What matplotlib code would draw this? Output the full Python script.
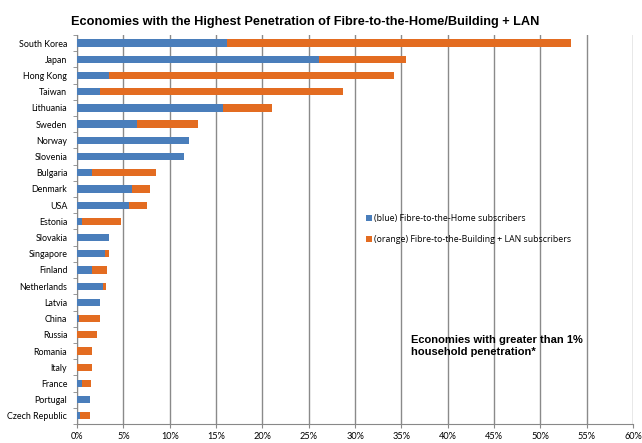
import matplotlib.pyplot as plt
import numpy as np

countries = ['South Korea', 'Japan', 'Hong Kong', 'Taiwan', 'Lithuania', 'Sweden',
             'Norway', 'Slovenia', 'Bulgaria', 'Denmark', 'USA', 'Estonia',
             'Slovakia', 'Singapore', 'Finland', 'Netherlands', 'Latvia', 'China',
             'Russia', 'Romania', 'Italy', 'France', 'Portugal', 'Czech Republic']
ftth = [16.2, 26.1, 3.5, 2.5, 15.7, 6.5, 12.1, 11.5, 1.6, 5.9, 5.6, 0.5,
        3.5, 3.0, 1.6, 2.75, 2.5, 0.25, 0.0, 0.0, 0.0, 0.5, 1.4, 0.3]
total = [53.3, 35.5, 34.2, 28.7, 21.0, 13.0, 12.1, 11.5, 8.5, 7.9, 7.6, 4.7,
         3.5, 3.5, 3.2, 3.1, 2.5, 2.5, 2.2, 1.65, 1.6, 1.5, 1.4, 1.4]
fttb = [t - h for t, h in zip(total, ftth)]
xticks = list(range(0, 65, 5))

BLUE = '#4a7ebb'
ORANGE = '#e36c21'


def main():
    fig = plt.figure(figsize=(6.42, 4.43), dpi=100)
    ax = fig.add_axes([0.12, 0.043, 0.866, 0.878])

    y = np.arange(len(countries))
    ax.barh(y, ftth, height=0.45, color=BLUE, zorder=3,
            label='(blue) Fibre-to-the-Home subscribers')
    ax.barh(y, fttb, left=ftth, height=0.45, color=ORANGE, zorder=3,
            label='(orange) Fibre-to-the-Building + LAN subscribers')

    ax.set_ylim(len(countries) - 0.5, -0.5)
    ax.set_xlim(0, 60)
    ax.set_yticks(y)
    ax.set_yticklabels(countries, fontsize=6.4, family='Lato')
    ax.set_yticks(np.arange(-0.5, len(countries)), minor=True)
    ax.tick_params(axis='y', which='major', length=0, pad=7)
    ax.tick_params(axis='y', which='minor', length=3, color='#888888')
    ax.set_xticks(xticks)
    ax.set_xticklabels([f'{v}%' for v in xticks], fontsize=6.6, family='Lato')
    ax.tick_params(axis='x', length=3, color='#888888', pad=3)

    ax.grid(axis='x', color='#8a8a8a', lw=1, zorder=1)
    for s in ['top', 'right']:
        ax.spines[s].set_visible(False)
    for s in ['left', 'bottom']:
        ax.spines[s].set_color('#888888')

    fig.suptitle('Economies with the Highest Penetration of Fibre-to-the-Home/Building + LAN',
                 x=0.475, y=0.965, fontsize=9.2, fontweight='bold', family='Liberation Sans')

    ax.legend(loc='upper left', bbox_to_anchor=(0.505, 0.56), frameon=False,
              prop={'family': 'Open Sans', 'size': 6.3},
              handlelength=0.7, handleheight=0.7, labelspacing=1.4, handletextpad=0.3)

    ax.text(0.6, 0.2, 'Economies with greater than 1%\nhousehold penetration*',
            transform=ax.transAxes, fontsize=8, fontweight='bold',
            family='Liberation Sans', va='center', linespacing=1.2)

    fig.savefig('out.png', dpi=100)


if __name__ == '__main__':
    main()
